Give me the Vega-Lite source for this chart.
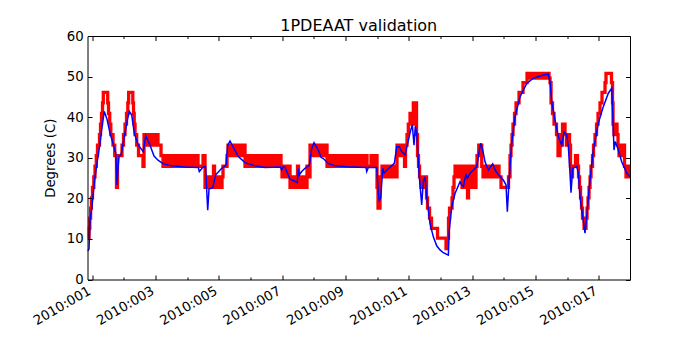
{
"$schema": "https://vega.github.io/schema/vega-lite/v6.json",
"width": 542.5, "height": 243.5,
"autosize": {"type": "none"},
"padding": {"left": 87.5, "top": 36, "right": 70, "bottom": 70.5},
"background": "white",
"config": {"view": {"stroke": null}, "font": "DejaVu Sans"},
"title": {"text": "1PDEAAT validation", "font": "DejaVu Sans", "fontSize": 16, "fontWeight": "normal", "color": "black", "anchor": "middle", "frame": "group", "baseline": "alphabetic", "offset": 6.7, "dy": 24.5},
"datasets": {
"red": [
{"d":0.849,"t":10.2},{"d":0.896,"t":12.6},{"d":0.921,"t":15.1},{"d":0.946,"t":17.6},{"d":0.972,"t":20.1},{"d":1.006,"t":22.7},{"d":1.047,"t":25.3},{"d":1.085,"t":27.9},{"d":1.126,"t":30.5},{"d":1.164,"t":33.1},{"d":1.227,"t":35.7},{"d":1.259,"t":38.3},{"d":1.291,"t":40.9},{"d":1.322,"t":43.5},{"d":1.347,"t":46.1},{"d":1.486,"t":43.5},{"d":1.512,"t":40.9},{"d":1.550,"t":38.3},{"d":1.584,"t":35.7},{"d":1.654,"t":33.1},{"d":1.708,"t":30.5},{"d":1.764,"t":22.7},{"d":1.796,"t":30.5},{"d":1.938,"t":33.1},{"d":1.985,"t":35.7},{"d":2.033,"t":38.3},{"d":2.080,"t":40.9},{"d":2.121,"t":43.5},{"d":2.147,"t":46.1},{"d":2.279,"t":43.5},{"d":2.301,"t":40.9},{"d":2.323,"t":38.3},{"d":2.349,"t":35.7},{"d":2.402,"t":33.1},{"d":2.459,"t":30.5},{"d":2.601,"t":27.9},{"d":2.633,"t":35.7},{"d":2.696,"t":33.1},{"d":2.759,"t":35.7},{"d":2.822,"t":33.1},{"d":2.886,"t":35.7},{"d":2.949,"t":33.1},{"d":3.012,"t":35.7},{"d":3.075,"t":33.1},{"d":3.170,"t":30.5},{"d":3.233,"t":27.9},{"d":3.296,"t":30.5},{"d":3.359,"t":27.9},{"d":3.423,"t":30.5},{"d":3.486,"t":27.9},{"d":3.549,"t":30.5},{"d":3.612,"t":27.9},{"d":3.675,"t":30.5},{"d":3.738,"t":27.9},{"d":3.802,"t":30.5},{"d":3.865,"t":27.9},{"d":3.928,"t":30.5},{"d":3.991,"t":27.9},{"d":4.054,"t":30.5},{"d":4.117,"t":27.9},{"d":4.181,"t":30.5},{"d":4.244,"t":27.9},{"d":4.307,"t":30.5},{"d":4.339,"t":27.9},{"d":4.497,"t":30.5},{"d":4.560,"t":22.7},{"d":4.592,"t":25.3},{"d":4.655,"t":22.7},{"d":4.718,"t":25.3},{"d":4.781,"t":22.7},{"d":4.828,"t":27.9},{"d":4.860,"t":25.3},{"d":4.907,"t":22.7},{"d":4.971,"t":25.3},{"d":5.034,"t":22.7},{"d":5.097,"t":25.3},{"d":5.128,"t":27.9},{"d":5.255,"t":30.5},{"d":5.286,"t":33.1},{"d":5.349,"t":30.5},{"d":5.413,"t":33.1},{"d":5.476,"t":30.5},{"d":5.539,"t":33.1},{"d":5.602,"t":30.5},{"d":5.665,"t":33.1},{"d":5.728,"t":30.5},{"d":5.792,"t":33.1},{"d":5.823,"t":27.9},{"d":5.886,"t":30.5},{"d":5.949,"t":27.9},{"d":6.013,"t":30.5},{"d":6.076,"t":27.9},{"d":6.139,"t":30.5},{"d":6.202,"t":27.9},{"d":6.265,"t":30.5},{"d":6.328,"t":27.9},{"d":6.392,"t":30.5},{"d":6.455,"t":27.9},{"d":6.518,"t":30.5},{"d":6.581,"t":27.9},{"d":6.644,"t":30.5},{"d":6.707,"t":27.9},{"d":6.771,"t":30.5},{"d":6.834,"t":27.9},{"d":6.897,"t":30.5},{"d":6.960,"t":27.9},{"d":6.992,"t":25.3},{"d":7.055,"t":27.9},{"d":7.118,"t":25.3},{"d":7.181,"t":27.9},{"d":7.245,"t":22.7},{"d":7.308,"t":25.3},{"d":7.371,"t":22.7},{"d":7.434,"t":25.3},{"d":7.481,"t":27.9},{"d":7.513,"t":22.7},{"d":7.560,"t":25.3},{"d":7.623,"t":22.7},{"d":7.687,"t":25.3},{"d":7.750,"t":22.7},{"d":7.781,"t":27.9},{"d":7.829,"t":25.3},{"d":7.876,"t":33.1},{"d":7.939,"t":30.5},{"d":8.003,"t":33.1},{"d":8.066,"t":30.5},{"d":8.129,"t":33.1},{"d":8.192,"t":30.5},{"d":8.255,"t":33.1},{"d":8.319,"t":30.5},{"d":8.382,"t":33.1},{"d":8.413,"t":27.9},{"d":8.476,"t":30.5},{"d":8.540,"t":27.9},{"d":8.603,"t":30.5},{"d":8.666,"t":27.9},{"d":8.729,"t":30.5},{"d":8.792,"t":27.9},{"d":8.856,"t":30.5},{"d":8.919,"t":27.9},{"d":8.982,"t":30.5},{"d":9.045,"t":27.9},{"d":9.108,"t":30.5},{"d":9.171,"t":27.9},{"d":9.235,"t":30.5},{"d":9.298,"t":27.9},{"d":9.361,"t":30.5},{"d":9.424,"t":27.9},{"d":9.487,"t":30.5},{"d":9.551,"t":27.9},{"d":9.614,"t":30.5},{"d":9.677,"t":27.9},{"d":9.803,"t":30.5},{"d":9.866,"t":27.9},{"d":9.930,"t":30.5},{"d":9.993,"t":22.7},{"d":10.024,"t":17.6},{"d":10.087,"t":25.3},{"d":10.150,"t":27.9},{"d":10.213,"t":25.3},{"d":10.277,"t":27.9},{"d":10.340,"t":25.3},{"d":10.403,"t":27.9},{"d":10.466,"t":25.3},{"d":10.529,"t":27.9},{"d":10.593,"t":25.3},{"d":10.624,"t":33.1},{"d":10.687,"t":30.5},{"d":10.750,"t":33.1},{"d":10.814,"t":30.5},{"d":10.861,"t":27.9},{"d":10.893,"t":33.1},{"d":10.940,"t":35.7},{"d":10.981,"t":38.3},{"d":11.035,"t":40.9},{"d":11.082,"t":38.3},{"d":11.114,"t":40.9},{"d":11.139,"t":43.5},{"d":11.171,"t":38.3},{"d":11.199,"t":43.5},{"d":11.240,"t":35.7},{"d":11.272,"t":30.5},{"d":11.303,"t":27.9},{"d":11.335,"t":25.3},{"d":11.382,"t":22.7},{"d":11.414,"t":25.3},{"d":11.461,"t":22.7},{"d":11.509,"t":25.3},{"d":11.556,"t":20.1},{"d":11.588,"t":17.6},{"d":11.651,"t":15.1},{"d":11.714,"t":12.6},{"d":11.904,"t":10.2},{"d":12.172,"t":7.6},{"d":12.204,"t":10.2},{"d":12.251,"t":15.1},{"d":12.283,"t":17.6},{"d":12.362,"t":20.1},{"d":12.393,"t":22.7},{"d":12.425,"t":25.3},{"d":12.457,"t":27.9},{"d":12.520,"t":25.3},{"d":12.583,"t":27.9},{"d":12.646,"t":25.3},{"d":12.678,"t":22.7},{"d":12.741,"t":27.9},{"d":12.804,"t":22.7},{"d":12.851,"t":20.1},{"d":12.883,"t":27.9},{"d":12.930,"t":22.7},{"d":12.993,"t":27.9},{"d":13.056,"t":22.7},{"d":13.119,"t":27.9},{"d":13.151,"t":30.5},{"d":13.205,"t":33.1},{"d":13.300,"t":27.9},{"d":13.341,"t":25.3},{"d":13.404,"t":27.9},{"d":13.467,"t":25.3},{"d":13.530,"t":27.9},{"d":13.594,"t":25.3},{"d":13.657,"t":27.9},{"d":13.720,"t":25.3},{"d":13.783,"t":27.9},{"d":13.846,"t":25.3},{"d":13.909,"t":22.7},{"d":14.146,"t":25.3},{"d":14.193,"t":30.5},{"d":14.225,"t":33.1},{"d":14.257,"t":35.7},{"d":14.288,"t":38.3},{"d":14.336,"t":40.9},{"d":14.383,"t":43.5},{"d":14.478,"t":46.1},{"d":14.604,"t":48.5},{"d":14.731,"t":50.8},{"d":14.794,"t":49.6},{"d":14.857,"t":50.8},{"d":14.920,"t":49.6},{"d":14.983,"t":50.8},{"d":15.047,"t":49.6},{"d":15.110,"t":50.8},{"d":15.173,"t":49.6},{"d":15.236,"t":50.8},{"d":15.299,"t":49.6},{"d":15.362,"t":50.8},{"d":15.426,"t":49.6},{"d":15.457,"t":48.5},{"d":15.489,"t":43.5},{"d":15.536,"t":40.9},{"d":15.583,"t":38.3},{"d":15.662,"t":35.7},{"d":15.710,"t":30.5},{"d":15.773,"t":35.7},{"d":15.820,"t":33.1},{"d":15.852,"t":38.3},{"d":15.931,"t":35.7},{"d":15.978,"t":33.1},{"d":16.025,"t":35.7},{"d":16.073,"t":33.1},{"d":16.104,"t":27.9},{"d":16.136,"t":25.3},{"d":16.168,"t":27.9},{"d":16.262,"t":30.5},{"d":16.326,"t":27.9},{"d":16.357,"t":25.3},{"d":16.389,"t":22.7},{"d":16.420,"t":20.1},{"d":16.452,"t":17.6},{"d":16.483,"t":15.1},{"d":16.531,"t":12.6},{"d":16.594,"t":15.1},{"d":16.626,"t":17.6},{"d":16.657,"t":20.1},{"d":16.689,"t":22.7},{"d":16.721,"t":25.3},{"d":16.752,"t":27.9},{"d":16.799,"t":30.5},{"d":16.831,"t":33.1},{"d":16.878,"t":35.7},{"d":16.926,"t":38.3},{"d":16.973,"t":40.9},{"d":17.036,"t":43.5},{"d":17.099,"t":46.1},{"d":17.194,"t":48.5},{"d":17.225,"t":50.8},{"d":17.399,"t":48.5},{"d":17.431,"t":43.5},{"d":17.447,"t":38.3},{"d":17.478,"t":35.7},{"d":17.526,"t":38.3},{"d":17.573,"t":35.7},{"d":17.605,"t":33.1},{"d":17.636,"t":30.5},{"d":17.684,"t":33.1},{"d":17.731,"t":30.5},{"d":17.778,"t":33.1},{"d":17.810,"t":27.9},{"d":17.857,"t":25.3},{"d":17.905,"t":27.9},{"d":17.952,"t":25.3},{"d":17.983,"t":27.9}
],
"blue": [
{"d":0.849,"t":7.0},{"d":0.896,"t":7.5},{"d":0.927,"t":14.5},{"d":0.981,"t":17.5},{"d":1.085,"t":25.3},{"d":1.243,"t":33.6},{"d":1.322,"t":38.5},{"d":1.379,"t":41.4},{"d":1.464,"t":39.5},{"d":1.559,"t":36.1},{"d":1.654,"t":33.5},{"d":1.739,"t":31.2},{"d":1.764,"t":27.0},{"d":1.780,"t":23.3},{"d":1.812,"t":27.5},{"d":1.843,"t":30.3},{"d":1.907,"t":30.7},{"d":2.033,"t":36.1},{"d":2.112,"t":39.5},{"d":2.169,"t":41.4},{"d":2.245,"t":40.5},{"d":2.327,"t":36.0},{"d":2.453,"t":33.1},{"d":2.611,"t":31.5},{"d":2.687,"t":35.4},{"d":2.823,"t":33.1},{"d":2.949,"t":30.4},{"d":3.075,"t":29.4},{"d":3.243,"t":28.5},{"d":3.508,"t":28.0},{"d":3.928,"t":27.7},{"d":4.348,"t":27.6},{"d":4.380,"t":26.6},{"d":4.497,"t":27.7},{"d":4.576,"t":27.8},{"d":4.645,"t":17.1},{"d":4.686,"t":22.3},{"d":4.803,"t":22.6},{"d":4.898,"t":25.8},{"d":5.087,"t":27.4},{"d":5.223,"t":28.2},{"d":5.277,"t":33.1},{"d":5.349,"t":34.1},{"d":5.612,"t":30.3},{"d":5.823,"t":28.8},{"d":6.139,"t":28.0},{"d":6.455,"t":27.6},{"d":6.944,"t":27.7},{"d":6.982,"t":27.0},{"d":7.033,"t":27.8},{"d":7.087,"t":27.6},{"d":7.140,"t":26.6},{"d":7.245,"t":24.7},{"d":7.349,"t":24.4},{"d":7.475,"t":23.9},{"d":7.507,"t":27.4},{"d":7.538,"t":25.8},{"d":7.614,"t":26.6},{"d":7.718,"t":27.4},{"d":7.854,"t":28.2},{"d":7.930,"t":32.3},{"d":8.003,"t":33.7},{"d":8.138,"t":31.9},{"d":8.224,"t":30.1},{"d":8.296,"t":29.8},{"d":8.454,"t":28.6},{"d":8.666,"t":28.0},{"d":9.035,"t":27.8},{"d":9.645,"t":27.6},{"d":9.667,"t":26.6},{"d":9.718,"t":27.6},{"d":9.983,"t":27.6},{"d":10.034,"t":21.2},{"d":10.065,"t":19.4},{"d":10.109,"t":20.0},{"d":10.173,"t":27.4},{"d":10.214,"t":26.2},{"d":10.299,"t":27.0},{"d":10.425,"t":27.8},{"d":10.539,"t":28.6},{"d":10.615,"t":32.7},{"d":10.697,"t":32.7},{"d":10.773,"t":31.5},{"d":10.877,"t":30.7},{"d":10.962,"t":33.6},{"d":11.057,"t":36.8},{"d":11.107,"t":38.1},{"d":11.161,"t":33.1},{"d":11.202,"t":37.7},{"d":11.246,"t":36.1},{"d":11.329,"t":25.3},{"d":11.404,"t":18.4},{"d":11.455,"t":24.1},{"d":11.509,"t":25.3},{"d":11.562,"t":20.4},{"d":11.666,"t":13.8},{"d":11.771,"t":10.5},{"d":11.878,"t":8.3},{"d":11.982,"t":7.3},{"d":12.087,"t":6.6},{"d":12.245,"t":6.0},{"d":12.276,"t":12.2},{"d":12.352,"t":17.9},{"d":12.456,"t":21.2},{"d":12.614,"t":24.1},{"d":12.668,"t":23.3},{"d":12.718,"t":22.9},{"d":12.804,"t":26.0},{"d":12.845,"t":24.9},{"d":12.930,"t":26.2},{"d":13.142,"t":27.8},{"d":13.224,"t":31.9},{"d":13.268,"t":33.6},{"d":13.331,"t":31.9},{"d":13.404,"t":29.0},{"d":13.508,"t":27.0},{"d":13.647,"t":28.5},{"d":13.720,"t":27.0},{"d":13.824,"t":25.8},{"d":13.982,"t":24.5},{"d":14.067,"t":23.3},{"d":14.108,"t":16.7},{"d":14.171,"t":25.3},{"d":14.247,"t":33.6},{"d":14.351,"t":40.1},{"d":14.509,"t":45.0},{"d":14.721,"t":48.3},{"d":14.929,"t":49.6},{"d":15.245,"t":50.4},{"d":15.403,"t":50.6},{"d":15.457,"t":48.7},{"d":15.510,"t":43.8},{"d":15.615,"t":39.3},{"d":15.719,"t":35.2},{"d":15.826,"t":33.1},{"d":15.899,"t":36.4},{"d":15.984,"t":35.6},{"d":16.035,"t":32.7},{"d":16.088,"t":26.2},{"d":16.120,"t":21.4},{"d":16.174,"t":27.4},{"d":16.300,"t":27.8},{"d":16.351,"t":26.2},{"d":16.404,"t":20.4},{"d":16.490,"t":15.5},{"d":16.562,"t":11.4},{"d":16.616,"t":15.5},{"d":16.698,"t":22.9},{"d":16.824,"t":31.9},{"d":16.982,"t":38.5},{"d":17.140,"t":42.6},{"d":17.298,"t":45.9},{"d":17.406,"t":47.1},{"d":17.437,"t":41.0},{"d":17.478,"t":31.9},{"d":17.519,"t":34.0},{"d":17.614,"t":31.9},{"d":17.721,"t":29.0},{"d":17.879,"t":26.2},{"d":17.983,"t":25.3}
]
},
"layer": [
{"data": {"name": "red"},
 "mark": {"type": "line", "color": "#ff0000", "strokeWidth": 3.3, "interpolate": "step-after", "clip": true},
 "encoding": {
  "x": {"field": "d", "type": "quantitative", "scale": {"domain": [0.848, 17.983], "nice": false, "zero": false},
   "axis": {"orient": "bottom", "values": [1,2,3,4,5,6,7,8,9,10,11,12,13,14,15,16,17], "title": null, "grid": false, "domainColor": "black", "domainWidth": 1, "tickColor": "black", "tickWidth": 1,
    "tickSize": {"condition": {"test": "datum.value % 2 == 1", "value": -4.5}, "value": -2.5},
    "labelExpr": "datum.value % 2 == 1 ? '2010:0' + (datum.value < 10 ? '0' : '') + datum.value : ''",
    "labelAngle": -30, "labelAlign": "right", "labelBaseline": "top", "labelFont": "DejaVu Sans", "labelFontSize": 13.3, "labelColor": "black", "labelPadding": 8.5, "labelOffset": -6.5, "labelOverlap": false, "labelFlush": false, "labelBound": false, "zindex": 1}},
  "y": {"field": "t", "type": "quantitative", "scale": {"domain": [0, 60], "nice": false},
   "axis": {"orient": "left", "values": [0,10,20,30,40,50,60], "title": "Degrees (C)", "titleFont": "DejaVu Sans", "titleFontSize": 13.3, "titleFontWeight": "normal", "titleColor": "black", "titleX": -33.5, "titleY": 121.75, "titleAngle": -90, "titleAlign": "center", "titleBaseline": "alphabetic", "grid": false, "domainColor": "black", "tickColor": "black", "tickSize": -4.5, "labelFont": "DejaVu Sans", "labelFontSize": 13.3, "labelColor": "black", "labelPadding": 8.9, "labelFlush": false, "labelOverlap": false, "zindex": 1}}
 }},
{"data": {"name": "blue"},
 "mark": {"type": "line", "color": "#0000ff", "strokeWidth": 1.5, "clip": true},
 "encoding": {
  "x": {"field": "d", "type": "quantitative", "scale": {"domain": [0.848, 17.983], "nice": false, "zero": false},
   "axis": {"orient": "top", "values": [1,2,3,4,5,6,7,8,9,10,11,12,13,14,15,16,17], "labels": false, "title": null, "grid": false, "domainColor": "black", "tickColor": "black",
    "tickSize": {"condition": {"test": "datum.value % 2 == 1", "value": -4.5}, "value": -2.5}, "zindex": 1}},
  "y": {"field": "t", "type": "quantitative", "scale": {"domain": [0, 60], "nice": false},
   "axis": {"orient": "right", "values": [0,10,20,30,40,50,60], "labels": false, "title": null, "grid": false, "domainColor": "black", "tickColor": "black", "tickSize": -4.5, "zindex": 1}}
 }}
],
"resolve": {"axis": {"x": "independent", "y": "independent"}}
}
